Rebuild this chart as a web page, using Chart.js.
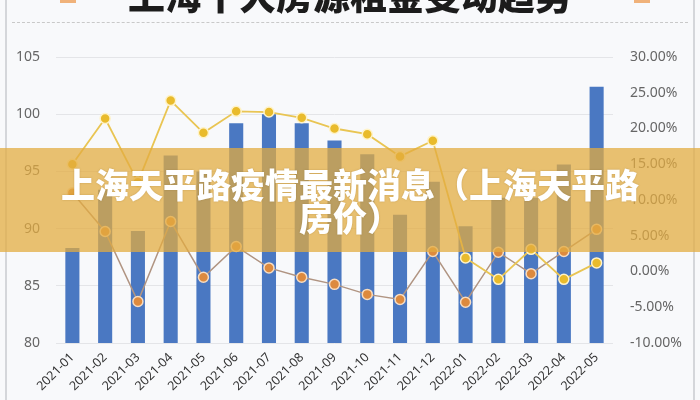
<!DOCTYPE html>
<html>
<head>
<meta charset="utf-8">
<script src="https://cdn.jsdelivr.net/npm/chart.js@4.4.0/dist/chart.umd.min.js"></script>
<style>
  html, body { margin: 0; padding: 0; background: #f8f9fb; }
  #wrap { position: relative; width: 700px; height: 400px; overflow: hidden; background: #f8f9fb;
          font-family: "Noto Sans CJK SC", "Noto Sans", sans-serif; }
  #wrap canvas { position: absolute; left: 0; top: 0; }
  .edge { position: absolute; top: 0; width: 2px; height: 400px; background: #d4d6da; }
  #title { position: absolute; left: 0; width: 700px; top: -24px; text-align: center;
           font-size: 37px; font-weight: 900; color: #1c1c1c; line-height: 1; letter-spacing: 0px; }
  #dash { position: absolute; left: 12px; width: 676px; top: 22px; border-top: 1px dashed #c9c9c9; }
  .tick-deco { position: absolute; top: 0; width: 16px; height: 3px; background: #f0b27a; }
  #banner { position: absolute; left: 0; top: 148px; width: 700px; height: 104px;
            background: rgba(226, 172, 64, 0.74); }
  #banner div { position: absolute; left: 0; width: 700px; text-align: center; color: #fff;
                font-size: 34px; font-weight: 900; line-height: 1;
                text-shadow: 0 0 2px rgba(120, 90, 30, 0.35); }
</style>
</head>
<body>
<div id="wrap">
  <canvas id="rentChart" width="700" height="400"></canvas>
  <div class="edge" style="left:5px"></div>
  <div class="edge" style="left:693px"></div>
  <div id="title">上海十大房源租金变动趋势</div>
  <div class="tick-deco" style="left:60px"></div>
  <div class="tick-deco" style="left:634px"></div>
  <div id="dash"></div>
  <div id="banner">
    <div style="top:19px">上海天平路疫情最新消息（上海天平路</div>
    <div style="top:52px">房价）</div>
  </div>
</div>
<script>
// ── Data
const months = ['2021-01', '2021-02', '2021-03', '2021-04', '2021-05', '2021-06',
                '2021-07', '2021-08', '2021-09', '2021-10', '2021-11', '2021-12',
                '2022-01', '2022-02', '2022-03', '2022-04', '2022-05'];

// rent index (left axis, bars)
const rentIndex = [88.3, 93.4, 89.8, 96.4, 95.0, 99.2, 100.0, 99.2, 97.7,
                   96.5, 91.2, 94.1, 90.2, 92.7, 92.7, 95.6, 102.4];

// yellow line, percent (right axis)
const yellowPct = [15.0, 21.4, 12.5, 23.9, 19.4, 22.4, 22.3, 21.5, 20.0,
                   19.2, 16.1, 18.3, 1.9, -1.1, 3.1, -1.1, 1.2];

// brown line, percent (right axis)
const brownPct = [11.0, 5.6, -4.2, 7.0, -0.8, 3.5, 0.5, -0.8, -1.8,
                  -3.2, -3.9, 2.8, -4.3, 2.7, -0.3, 2.8, 5.9];

const leftTicks  = [80, 85, 90, 95, 100, 105];
const rightTicks = [-10, -5, 0, 5, 10, 15, 20, 25, 30];

// ── Shared look
const COLORS = {
  bar:      '#4a78c2',
  yellow:   '#e9c553',
  brown:    '#b09482',
  brownDot: '#dd8a3e',
  grid:     '#e4e5e8',
  tick:     '#666666',
  label:    '#333333',
};

new Chart(document.getElementById('rentChart'), {
  data: {
    labels: months,
    datasets: [
      {
        type: 'line',
        data: yellowPct,
        yAxisID: 'yRight',
        borderColor: COLORS.yellow,
        borderWidth: 1.8,
        pointRadius: 5,
        pointBackgroundColor: '#e9bb2c',
        pointBorderColor: '#fff3c8',
        pointBorderWidth: 1.5,
        tension: 0,
        order: 1,
      },
      {
        type: 'line',
        data: brownPct,
        yAxisID: 'yRight',
        borderColor: COLORS.brown,
        borderWidth: 1.5,
        pointRadius: 5,
        pointBackgroundColor: COLORS.brownDot,
        pointBorderColor: '#f7dcc0',
        pointBorderWidth: 1.5,
        tension: 0,
        order: 2,
      },
      {
        type: 'bar',
        data: rentIndex,
        yAxisID: 'yLeft',
        backgroundColor: COLORS.bar,
        barPercentage: 0.43,
        categoryPercentage: 1,
        order: 3,
      },
    ],
  },
  options: {
    responsive: false,
    animation: false,
    layout: { padding: { top: 57, left: 0, right: 0, bottom: 0 } },
    plugins: { legend: { display: false }, tooltip: { enabled: false } },
    scales: {
      x: {
        grid: { display: false, drawTicks: false },
        border: { display: false },
        ticks: {
          autoSkip: false, minRotation: 45, maxRotation: 45, padding: 7,
          color: COLORS.label, font: { family: 'Noto Sans', size: 12.5 },
        },
        afterFit: s => { s.height = 57; },
      },
      yLeft: {
        position: 'left',
        min: 80, max: 105,
        grid: { color: COLORS.grid, drawTicks: false },
        border: { display: false },
        afterBuildTicks: s => { s.ticks = leftTicks.map(v => ({ value: v })); },
        ticks: { padding: 16, color: COLORS.tick, font: { family: 'Noto Sans', size: 14 } },
        afterFit: s => { s.width = 56; },
      },
      yRight: {
        position: 'right',
        min: -10, max: 30,
        grid: { display: false, drawTicks: false },
        border: { display: false },
        afterBuildTicks: s => { s.ticks = rightTicks.map(v => ({ value: v })); },
        ticks: {
          padding: 17, color: COLORS.tick, font: { family: 'Noto Sans', size: 14 },
          callback: v => v.toFixed(2) + '%',
        },
        afterFit: s => { s.width = 87; },
      },
    },
  },
});
</script>
</body>
</html>
